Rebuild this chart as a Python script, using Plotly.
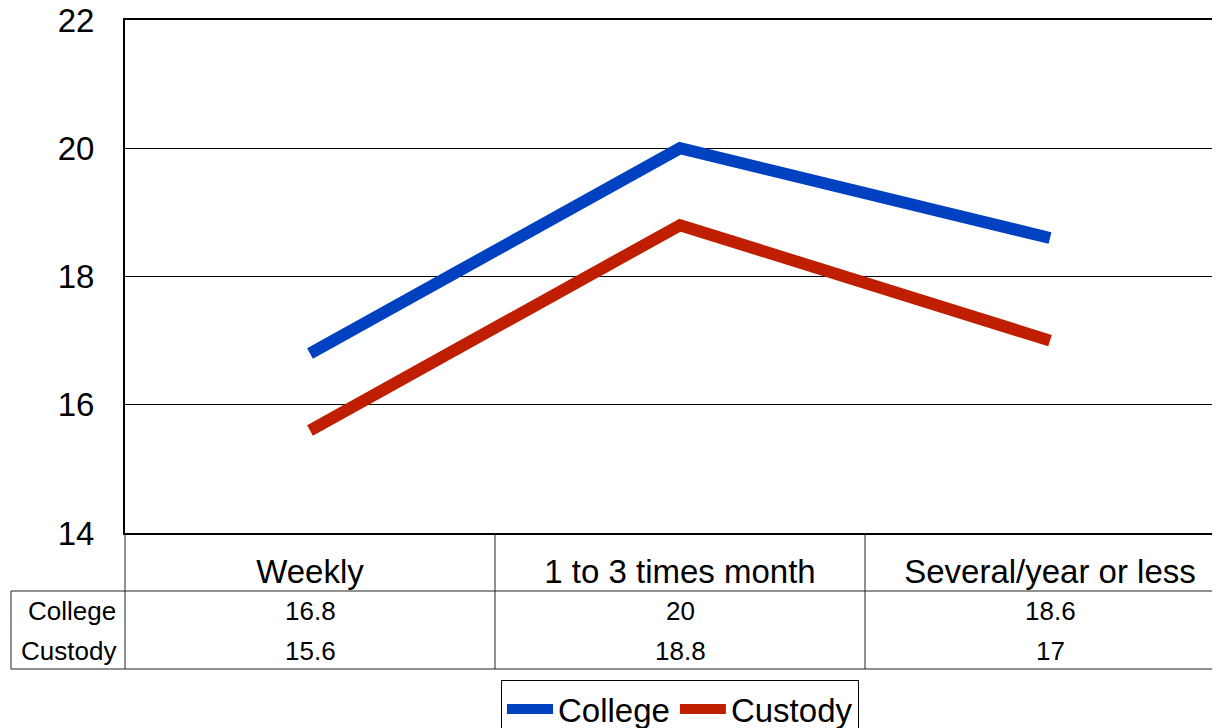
import plotly.graph_objects as go

categories = ["Weekly", "1 to 3 times month", "Several/year or less"]
college = [16.8, 20, 18.6]
custody = [15.6, 18.8, 17]
college_labels = ["16.8", "20", "18.6"]
custody_labels = ["15.6", "18.8", "17"]
y_ticks = [14, 16, 18, 20, 22]

FONT = "Liberation Sans, Arial, sans-serif"
BLUE = "#0041C2"
RED = "#C01E00"

# page body has a small default margin, compensate so the chart fills the window
OFF = 7
WIN_W, WIN_H = 1220, 728
W, H = WIN_W - OFF, WIN_H - OFF
PLOT_L, PLOT_T, PLOT_B = 124, 19, 532   # window pixels
L, T, B = PLOT_L - OFF, PLOT_T - OFF, OFF + H - PLOT_B
plot_w = WIN_W - PLOT_L
plot_h = PLOT_B - PLOT_T


def px_y(py):
    # window pixel row -> paper y
    return (PLOT_B - py) / plot_h


def px_x(px):
    return (px - PLOT_L) / plot_w


fig = go.Figure()
fig.add_trace(go.Scatter(x=[0, 1, 2], y=college, name="College", mode="lines",
                         line=dict(color=BLUE, width=12)))
fig.add_trace(go.Scatter(x=[0, 1, 2], y=custody, name="Custody", mode="lines",
                         line=dict(color=RED, width=12)))

shapes = []
line_style = dict(color="#222", width=1)
# data table grid
for yy in (590, 668):
    shapes.append(dict(type="line", xref="paper", yref="paper",
                       x0=px_x(10), x1=1.0, y0=px_y(yy), y1=px_y(yy), line=line_style))
shapes.append(dict(type="line", xref="paper", yref="paper",
                   x0=px_x(10), x1=px_x(10), y0=px_y(590), y1=px_y(668), line=line_style))
shapes.append(dict(type="line", xref="paper", yref="paper",
                   x0=0, x1=0, y0=0, y1=px_y(668), line=line_style))
for xb in (0.5, 1.5):
    shapes.append(dict(type="line", xref="x", yref="paper",
                       x0=xb, x1=xb, y0=0, y1=px_y(668), line=line_style))

annotations = []
for name, labels, yy in (("College", college_labels, 610), ("Custody", custody_labels, 650)):
    annotations.append(dict(text=name, xref="paper", yref="paper", x=px_x(117), y=px_y(yy),
                            xanchor="right", yanchor="middle", showarrow=False,
                            font=dict(size=26, color="black", family=FONT)))
    for i, lab in enumerate(labels):
        annotations.append(dict(text=lab, xref="x", yref="paper", x=i, y=px_y(yy),
                                xanchor="center", yanchor="middle", showarrow=False,
                                font=dict(size=26, color="black", family=FONT)))

fig.update_layout(
    width=W, height=H,
    margin=dict(l=L, r=0, t=T, b=B, autoexpand=False),
    paper_bgcolor="white", plot_bgcolor="white",
    font=dict(family=FONT, color="black"),
    showlegend=True,
    legend=dict(orientation="h", xref="paper", x=px_x(679), xanchor="center",
                yref="container", y=1 - (679 - OFF) / H, yanchor="top",
                bordercolor="black", borderwidth=1, font=dict(size=33, family=FONT),
                itemwidth=46, tracegroupgap=0),
    shapes=shapes,
    annotations=annotations,
    xaxis=dict(range=[-0.5, plot_w / ((1234 - PLOT_L) / 3) - 0.5], tickvals=[0, 1, 2],
               ticktext=categories, showgrid=False, zeroline=False, automargin=False,
               showline=True, linecolor="black", linewidth=2, mirror=True,
               ticks="", tickfont=dict(size=33, family=FONT), ticklabelstandoff=8),
    yaxis=dict(range=[14, 22], tickvals=y_ticks, showgrid=True, gridcolor="black", gridwidth=1,
               zeroline=False, showline=True, linecolor="black", linewidth=2, automargin=False,
               ticks="", tickfont=dict(size=33, family=FONT), ticklabelstandoff=22,
               ticklabeloverflow="allow"),
)

fig.write_html("out.html")
